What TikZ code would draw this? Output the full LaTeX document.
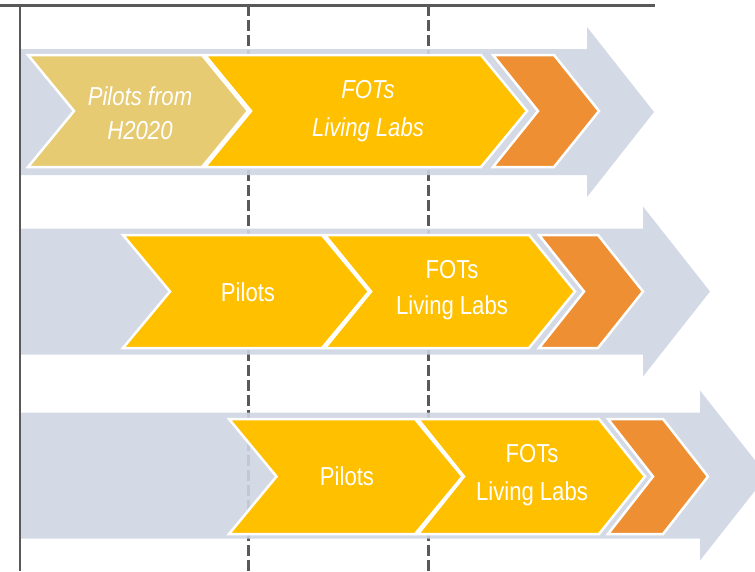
\documentclass[tikz,border=0pt]{standalone}
\usepackage{fontspec}
\setmainfont{Liberation Sans}[FakeStretch=0.85]
\definecolor{bandc}{HTML}{CFD5E3}
\definecolor{tanc}{HTML}{E6CB73}
\definecolor{yelc}{HTML}{FFC000}
\definecolor{orac}{HTML}{ED8F32}
\definecolor{linec}{HTML}{595959}
\tikzset{
  bandshape/.style={fill=bandc, fill opacity=0.9, draw=none},
  chev/.style={draw=white, line width=2.5pt, line join=miter},
  axisline/.style={draw=linec, line width=2pt},
  dashline/.style={draw=linec, line width=2.5pt, dash pattern=on 11pt off 4pt},
  lbl/.style={text=white, align=center, inner sep=0pt},
}
% \chevshape{L}{R}{C}{h}{d}{fill}
\newcommand\chevshape[6]{%
  \filldraw[chev, fill=#6] ({#1},{#3-#4}) -- ({#2},{#3-#4}) -- ({#2+#5},{#3}) -- ({#2},{#3+#4}) -- ({#1},{#3+#4}) -- ({#1+#5},{#3}) -- cycle;}
% \bandarrow{C}{X}
\newcommand\bandarrow[2]{%
  \fill[bandshape] (21,{#1-63}) -- ({#2},{#1-63}) -- ({#2},{#1-85}) -- ({#2+67},{#1}) -- ({#2},{#1+85}) -- ({#2},{#1+63}) -- (21,{#1+63}) -- cycle;}
\begin{document}
\begin{tikzpicture}[x=1pt,y=-1pt]
\useasboundingbox (0,0) rectangle (755,571);
\clip (0,0) rectangle (755,571);
\fill[white] (0,0) rectangle (755,571);
% axes
\draw[dashline] (248.7,5) -- (248.7,571);
\draw[dashline] (428.5,5) -- (428.5,571);
\draw[axisline] (20,5) -- (20,571);
\draw[linec, line width=2.7pt] (0,5.3) -- (655,5.3);
% row 1
\bandarrow{112}{587}
\chevshape{28}{202}{111}{56}{46}{tanc}
\chevshape{205}{481}{111}{56}{46}{yelc}
\chevshape{493}{554}{111}{56}{45}{orac}
\node[lbl, font=\fontsize{26}{34}\selectfont\itshape] (t1a) at (140,113.5) {Pilots from\\H2020};
\node[lbl, font=\fontsize{26}{38}\selectfont\itshape] (t1b) at (368,111.5) {FOTs\\Living Labs};
% row 2
\bandarrow{291.5}{643}
\chevshape{123}{322}{291.5}{56.5}{47}{yelc}
\chevshape{325}{529}{291.5}{56.5}{46}{yelc}
\chevshape{539}{598}{291.5}{56.5}{45}{orac}
\node[lbl, font=\fontsize{26}{36}\selectfont] (t2a) at (248,292) {Pilots};
\node[lbl, font=\fontsize{26}{36}\selectfont] (t2b) at (452,290.5) {FOTs\\Living Labs};
% row 3
\bandarrow{475.5}{700}
\chevshape{229}{415}{476.5}{57.5}{47.5}{yelc}
\chevshape{418}{599}{476.5}{57.5}{46}{yelc}
\chevshape{608}{663}{476.5}{57.5}{45}{orac}
\node[lbl, font=\fontsize{26}{38}\selectfont] (t3a) at (347,476) {Pilots};
\node[lbl, font=\fontsize{26}{38}\selectfont] (t3b) at (532,475) {FOTs\\Living Labs};
\end{tikzpicture}
\end{document}
